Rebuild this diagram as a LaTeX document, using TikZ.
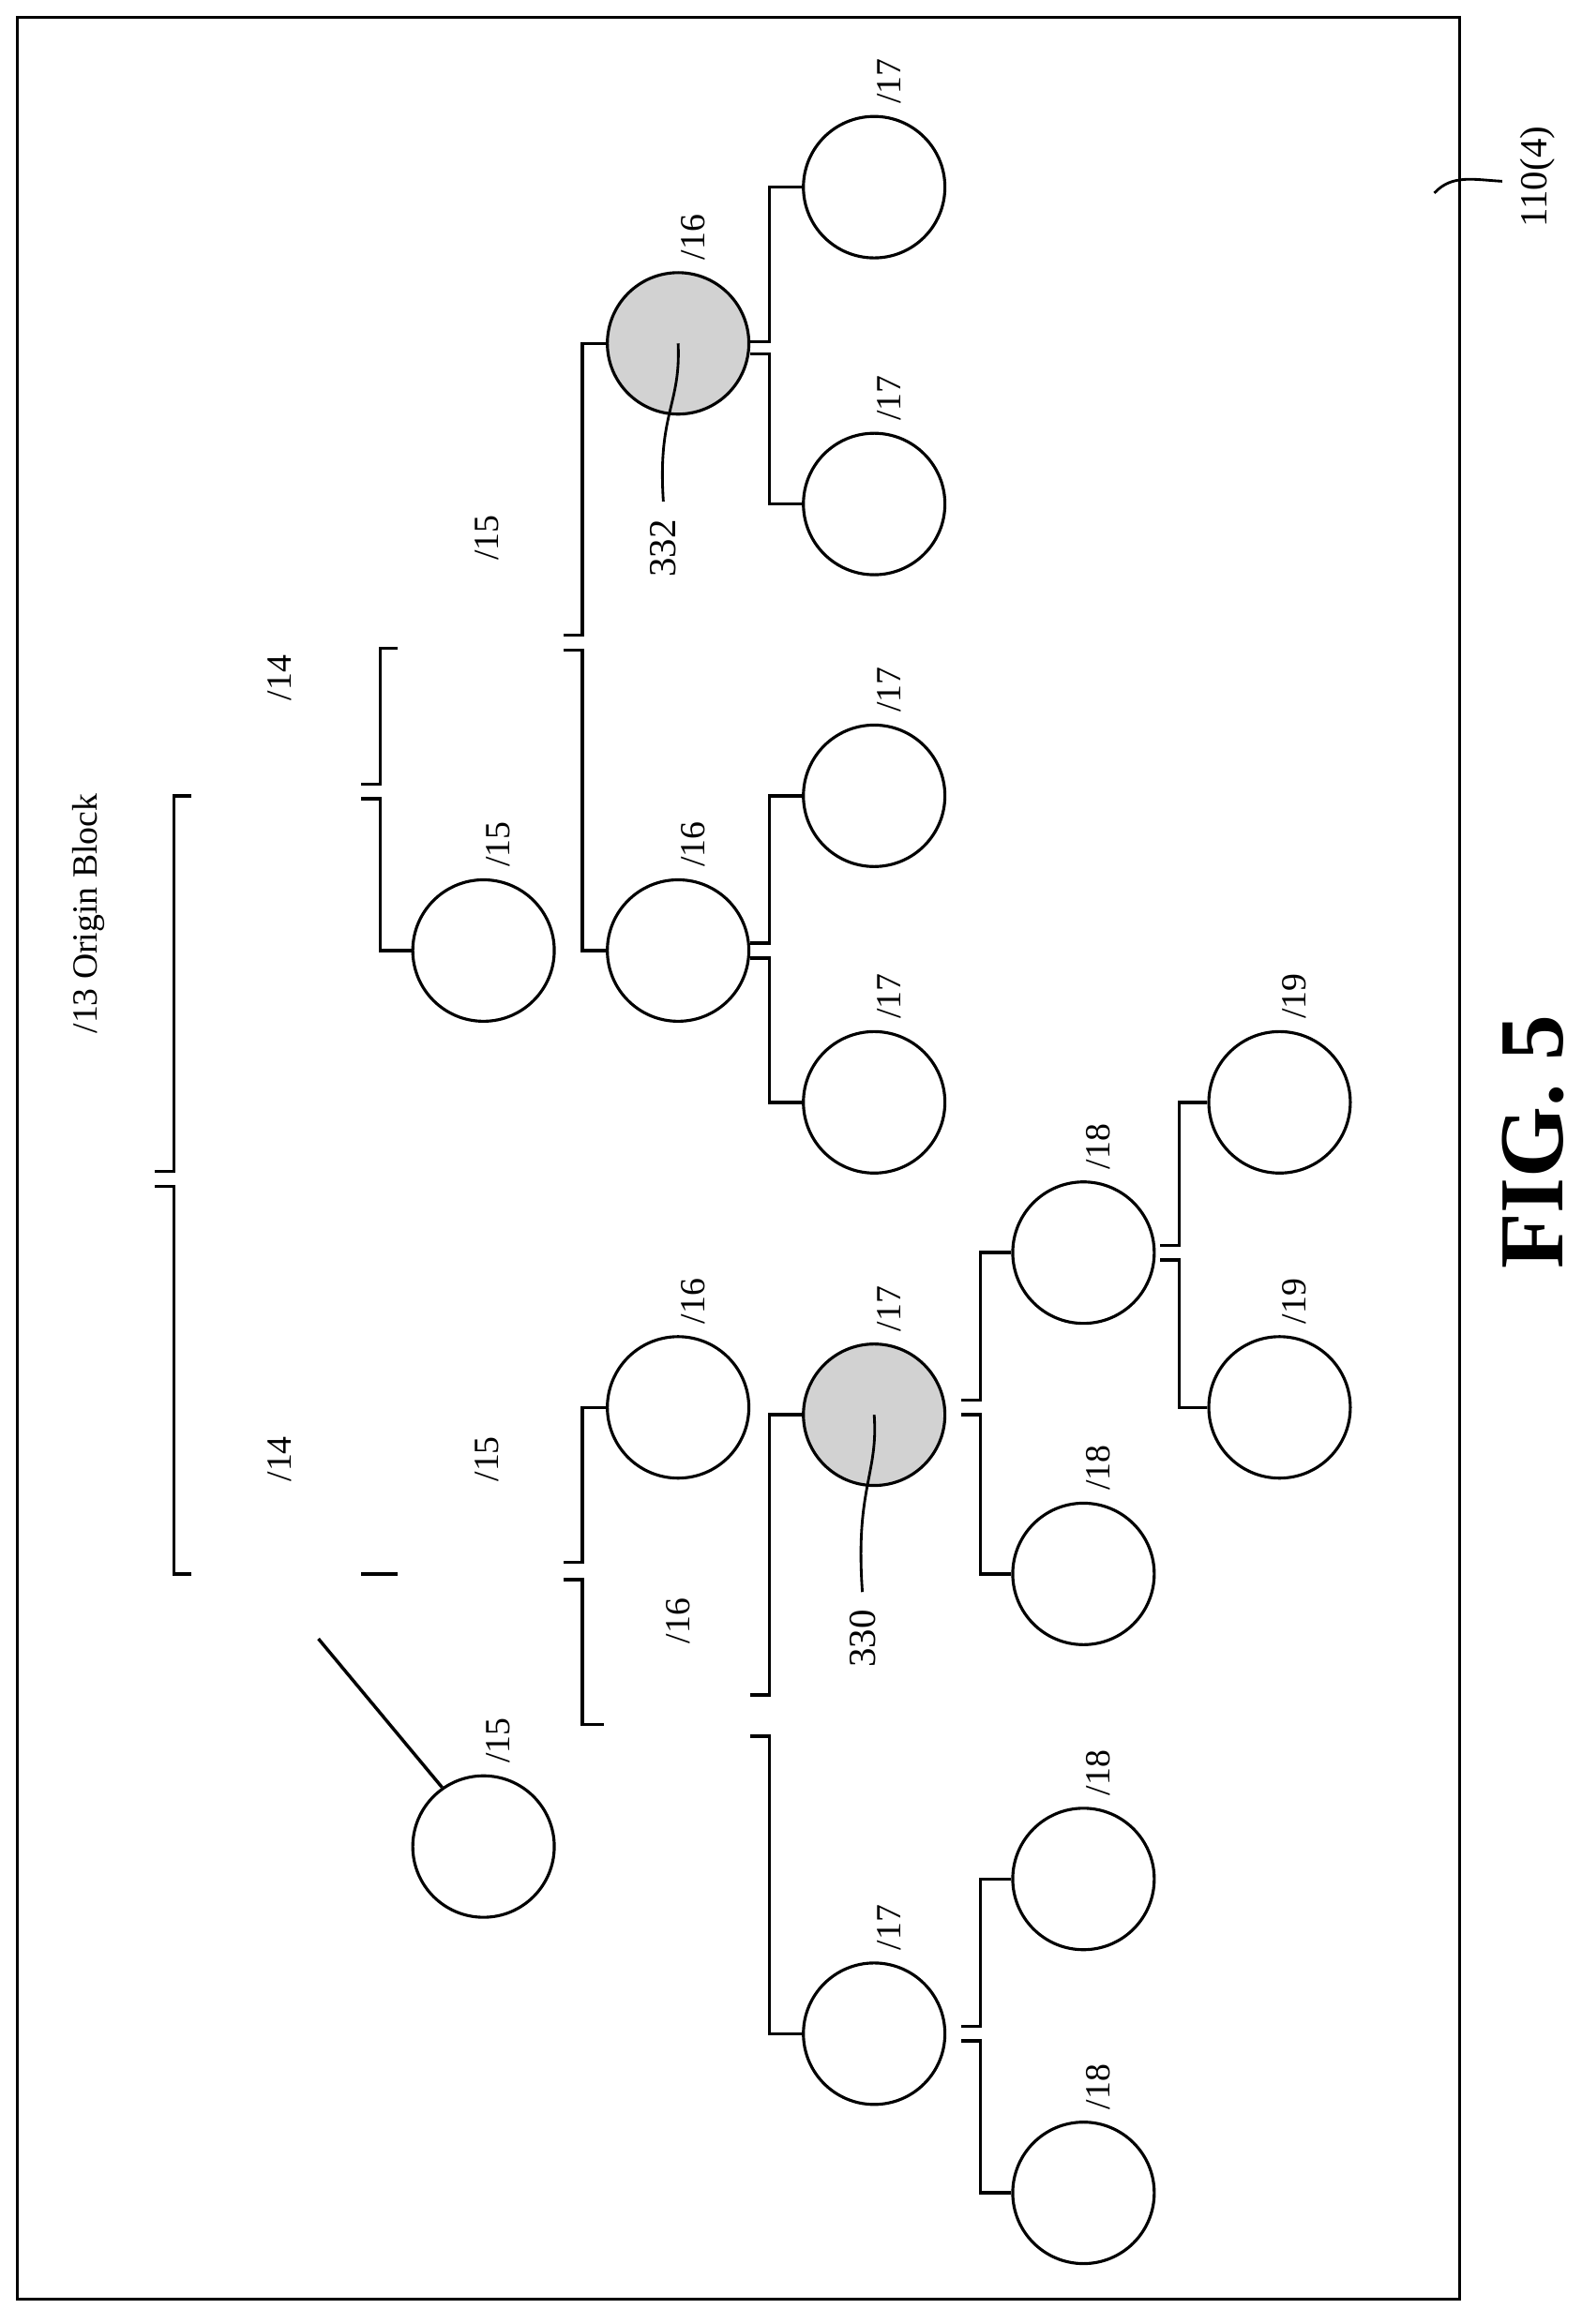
\documentclass[tikz,border=0pt]{standalone}
\usepackage{fontspec}
\setmainfont{Liberation Serif}
\tikzstyle{blk} = [circle,draw,line width=2pt,minimum size=96pt,inner sep=0pt]
\tikzstyle{hit} = [blk,fill=gray!35]
\tikzstyle{bline} = [line width=2.2pt]
\tikzstyle{lbl} = [rotate=90,font=\fontsize{24}{26}\selectfont,inner sep=0pt]
\tikzstyle{stub} = [inner sep=0pt,minimum size=0pt]
% bracket: x, y of parent tick, upper child, lower child, half gap
\newcommand{\brk}[5]{%
  \coordinate (bk) at (#1,-#2);
  \draw[bline] (#3.west) -- (#3.west -| bk) -- ([yshift=#5]bk) -- ++(-13,0);
  \draw[bline] (#4.west) -- (#4.west -| bk) -- ([yshift=-#5]bk) -- ++(-13,0);}
\begin{document}
\begin{tikzpicture}[x=1pt,y=1pt]
        \useasboundingbox (0,0) rectangle (1073,-1577);
        \draw[line width=2pt] (12,-12) rectangle (990,-1560);

        % upper branch
        \node[blk] at (593,-127) (t1) {};
        \node[blk] at (593,-342) (t2) {};
        \node[hit] at (460,-233) (s1) {};
        \node[blk] at (593,-540) (t3) {};
        \node[blk] at (593,-748) (t4) {};
        \node[blk] at (460,-645) (m1) {};
        \node[blk] at (328,-645) (m2) {};
        % lower branch
        \node[blk] at (460,-955) (u1) {};
        \node[hit] at (593,-960) (u2) {};
        \node[blk] at (735,-850) (u3) {};
        \node[blk] at (735,-1068) (u4) {};
        \node[blk] at (868,-748) (u5) {};
        \node[blk] at (868,-955) (u6) {};
        \node[blk] at (328,-1253) (w1) {};
        \node[blk] at (593,-1380) (w2) {};
        \node[blk] at (735,-1275) (w3) {};
        \node[blk] at (735,-1488) (w4) {};
        % open ends
        \node[stub] at (270,-440) (e1) {};
        \node[stub] at (130,-540) (e2) {};
        \node[stub] at (130,-1068) (e3) {};
        \node[stub] at (410,-1170) (e4) {};

        \foreach \n/\t in {t1/17,t2/17,s1/16,t3/17,t4/17,m1/16,m2/15,u1/16,u2/17,u3/18,u4/18,u5/19,u6/19,w1/15,w2/17,w3/18,w4/18}
            \node[lbl] at ([xshift=10,yshift=72]\n.center) {/\t};

        \brk{522}{236}{t1}{t2}{4}
        \brk{522}{645}{t3}{t4}{5}
        \brk{395}{436}{s1}{m1}{5}
        \brk{258}{537}{e1}{m2}{5}
        \brk{118}{800}{e2}{e3}{5}
        \brk{665}{955}{u3}{u4}{5}
        \brk{800}{850}{u5}{u6}{5}
        \brk{395}{1066}{u1}{e4}{6}
        \brk{522}{1164}{u2}{w2}{14}
        \brk{665}{1380}{w3}{w4}{5}

        \coordinate (d1) at (216,-1112);
        \draw[bline] (d1) -- (w1.125);
        \coordinate (d2) at (245,-1068);
        \draw[bline] (d2) -- ++(25,0);

        \node[lbl] at (330,-365) {/15};
        \node[lbl] at (190,-460) {/14};
        \node[lbl] at (60,-620) {/13 Origin Block};
        \node[lbl] at (190,-990) {/14};
        \node[lbl] at (330,-990) {/15};
        \node[lbl] at (460,-1100) {/16};

        % reference numerals
        \node[lbl,font=\fontsize{26}{28}\selectfont] at (585,-1112) (r330) {330};
        \draw[line width=1.8pt] (r330.east) ++(0,12) .. controls (580,-1010) and (596,-1000) .. (u2.center);
        \node[lbl,font=\fontsize{26}{28}\selectfont] at (450,-372) (r332) {332};
        \draw[line width=1.8pt] (r332.east) ++(0,12) .. controls (446,-280) and (462,-275) .. (s1.center);
        \node[lbl,font=\fontsize{26}{28}\selectfont] at (1043,-120) (r110) {110(4)};
        \draw[line width=1.8pt] (973,-131) .. controls (985,-118) and (1000,-122) .. (1019,-123);

        \node[rotate=90,font=\bfseries\fontsize{62}{64}\selectfont] at (1040,-775) (fig) {FIG. 5};
    \end{tikzpicture}
\end{document}
